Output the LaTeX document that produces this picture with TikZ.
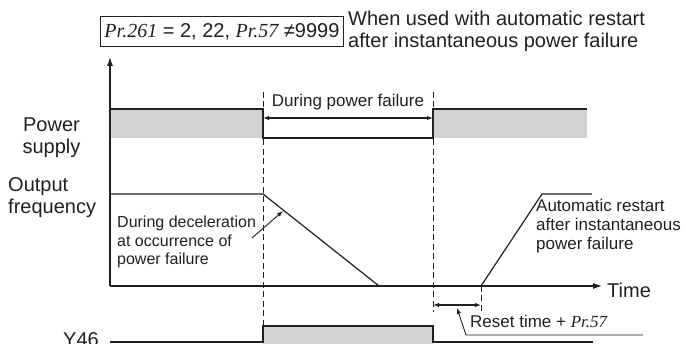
\documentclass[tikz,border=0pt]{standalone}
\usepackage{fontspec}
\setmainfont{Liberation Sans}
\newfontfamily\timesfont{Liberation Serif}
\usetikzlibrary{arrows.meta}
\definecolor{fillgray}{RGB}{210,210,210}
\definecolor{ink}{RGB}{35,31,32}
\newcommand\prit[1]{{\timesfont\itshape #1}}
\newcommand\leftlines[1]{\vtop{\halign{##\hfil\cr#1\crcr}}}
\newcommand\centerlines[1]{\vtop{\halign{\hfil##\hfil\cr#1\crcr}}}
\begin{document}
\begin{tikzpicture}[x=1pt,y=-1pt,
  sig/.style={line width=1.2pt, ink, line join=miter},
  guide/.style={line width=0.8pt, ink, dash pattern=on 6pt off 3.5pt},
  lbl/.style={font=\fontsize{20}{22}\selectfont, inner sep=0pt, text=ink},
  ann/.style={font=\fontsize{17}{18.7}\selectfont, inner sep=0pt, text=ink},
  annsmall/.style={font=\fontsize{16}{18.5}\selectfont, inner sep=0pt, text=ink},
  axisarrow/.style={line width=1.1pt, ink, -{Latex[length=9pt,width=6pt]}},
  dimarrow/.style={line width=1.1pt, ink, {Latex[length=6pt,width=4.5pt]}-{Latex[length=6pt,width=4.5pt]}},
  pointer/.style={line width=0.9pt, ink, -{Latex[length=6pt,width=4.5pt]}}
]
\useasboundingbox (0,0) rectangle (685,344);

% coordinates
\coordinate (axO) at (110,286);
\coordinate (axT) at (110,57);
\coordinate (axR) at (602,286);
\coordinate (ps0) at (110,109);
\coordinate (psD) at (263,109);
\coordinate (psDl) at (263,138);
\coordinate (psUl) at (433,138);
\coordinate (psU) at (433,109);
\coordinate (psE) at (587,109);
\coordinate (of0) at (110,194);
\coordinate (ofD) at (263,194);
\coordinate (ofZ) at (379,286);
\coordinate (ofR) at (481,286);
\coordinate (ofT) at (542,194);
\coordinate (ofE) at (592,194);
\coordinate (y0) at (110,342);
\coordinate (yU) at (263,342);
\coordinate (yUh) at (263,326);
\coordinate (yDh) at (433,326);
\coordinate (yD) at (433,342);
\coordinate (yE) at (593,342);
\coordinate (g1t) at (263,92);
\coordinate (g1b) at (263,326);
\coordinate (g2t) at (433,92);
\coordinate (g2b) at (433,312);
\coordinate (g3t) at (481,286);
\coordinate (g3b) at (481,312);
\coordinate (pfL) at (263,118);
\coordinate (pfR) at (433,118);
\coordinate (rtL) at (433,305);
\coordinate (rtR) at (481,305);
\coordinate (decS) at (252,238);
\coordinate (decT) at (283,211);
\coordinate (rsT) at (457,308);
\coordinate (rsK) at (466,335);
\coordinate (rsE) at (643,335);

% gray fills
\fill[fillgray] (ps0) rectangle (psDl);
\fill[fillgray] (psU) rectangle (587,138);
\fill[fillgray] (yUh) rectangle (433,346);

% guides
\draw[guide] (g1t) -- (g1b);
\draw[guide] (g2t) -- (g2b);
\draw[guide] (g3t) -- (g3b);

% axes
\draw[axisarrow] (axO) -- (axT);
\draw[axisarrow] (axO) -- (axR);

% signals
\draw[sig] (ps0) -- (psD) -- (psDl) -- (psUl) -- (psU) -- (psE);
\draw[sig] (of0) -- (ofD) -- (ofZ);
\draw[sig] (ofR) -- (ofT) -- (ofE);
\draw[sig] (y0) -- (yU) -- (yUh) -- (yDh) -- (yD) -- (yE);

% dimension arrows
\draw[dimarrow] (pfL) -- (pfR);
\draw[dimarrow] (rtL) -- (rtR);
\draw[pointer] (decS) -- (decT);
\draw[pointer] (rsE) -- (rsK) -- (rsT);

% labels
\node[lbl, draw=ink, line width=0.9pt, minimum width=243pt, minimum height=30pt, anchor=north west] (cond) at (100,16)
  {\prit{Pr.261} = 2, 22, \prit{Pr.57} ≠9999};
\node[lbl, anchor=base west] (use) at (348,26)
  {\leftlines{When used with automatic restart\cr after instantaneous power failure}};
\node[lbl, anchor=base] (pwr) at (51.5,132) {\centerlines{Power\cr supply}};
\node[lbl, anchor=base west] (ofq) at (8,192) {\leftlines{Output\cr frequency}};
\node[lbl, anchor=base west] (time) at (607,298) {Time};
\node[lbl, anchor=base east] (y46) at (99,346) {Y46};
\node[ann, anchor=base] (dpf) at (348,107) {During power failure};
\node[annsmall, anchor=base west] (dec) at (117,228)
  {\leftlines{During deceleration\cr at occurrence of\cr power failure}};
\node[ann, anchor=base west] (auto) at (536,212)
  {\leftlines{Automatic restart\cr after instantaneous\cr power failure}};
\node[ann, anchor=base west] (reset) at (470,328) {Reset time + \prit{Pr.57}};
\end{tikzpicture}
\end{document}
